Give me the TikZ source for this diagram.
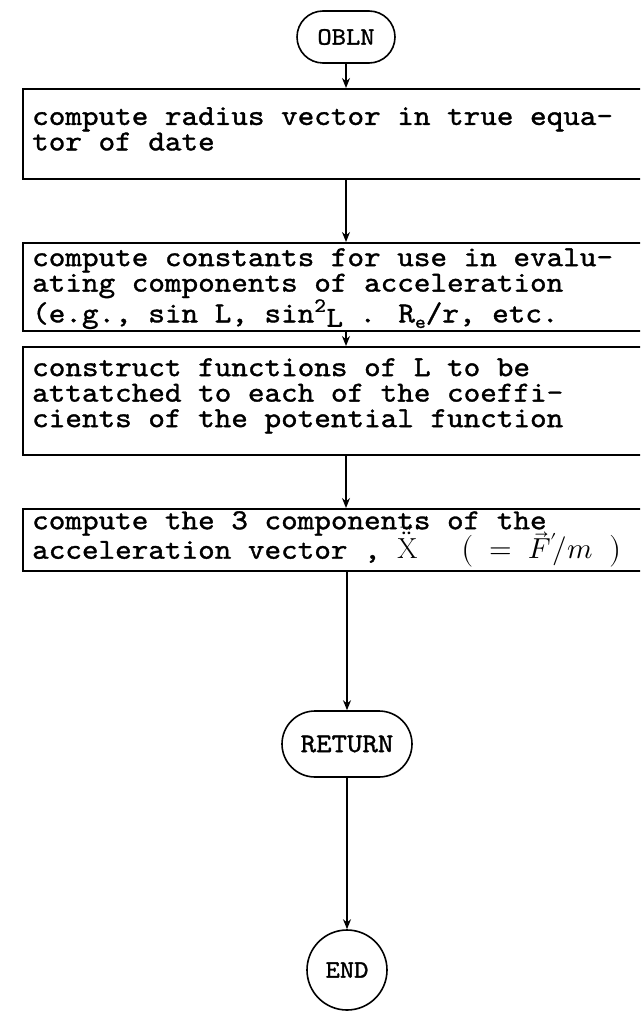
\documentclass[tikz,border=0pt]{standalone}
\usepackage{fontspec}
\usepackage{unicode-math}
\usetikzlibrary{shapes.misc,arrows.meta}
\newfontfamily\tw{lmmono10-regular}[Extension=.otf,FakeBold=1.2,FakeStretch=1.09]
\begin{document}
\begin{tikzpicture}[x=1pt,y=1pt,
  stepbox/.style={draw,line width=1.6pt,rectangle,anchor=north west,
    minimum width=660pt,inner sep=0pt},
  boxtext/.style={anchor=north west,inner sep=0pt,align=left,
    font=\tw\fontsize{29}{25.5}\selectfont},
  term/.style={draw,line width=1.6pt,rounded rectangle,inner sep=0pt,
    font=\tw\fontsize{25}{25}\selectfont},
  endc/.style={draw,line width=1.6pt,circle,inner sep=0pt,
    font=\tw\fontsize{25}{25}\selectfont},
  arr/.style={line width=1.5pt,-{Stealth[length=10pt,width=8pt]}}]
\useasboundingbox (0,0) rectangle (640,-1027);
\clip (0,0) rectangle (640,-1027);
\fill[white] (0,0) rectangle (640,-1027);

\node[term,minimum width=98pt,minimum height=52pt] (obln) at (346,-37) {OBLN};

\node[stepbox,minimum height=90pt] (b1) at (22,-88) {};
\node[boxtext] (t1) at (32,-107) {compute radius vector in true equa-\\tor of date};

\node[stepbox,minimum height=88pt] (b2) at (22,-242) {};
\node[boxtext] (t2) at (32,-248) {compute constants for use in evalu-\\ating components of acceleration\\(e.g., sin L, sin\textsuperscript{2}\raisebox{-0.35ex}{L} . R\raisebox{-0.45ex}{\fontsize{19}{19}\selectfont e}/r, etc.};

\node[stepbox,minimum height=108pt] (b3) at (22,-346) {};
\node[boxtext] (t3) at (32,-358) {construct functions of L to be\\attatched to each of the coeffi-\\cients of the potential function};

\node[stepbox,minimum height=62pt] (b4) at (22,-508) {};
\node[boxtext] (t4) at (32,-511) {compute the 3 components of the\\[4pt]acceleration vector , \smash{$\vec{\ddot{\mathrm{X}}}$}\hspace{44pt}\smash{$\bigl(\;\;=\;\vec{F}'\!/m\;\;\bigr)$}};

\node[term,minimum width=130pt,minimum height=66pt,font=\tw\fontsize{27}{27}\selectfont] (ret) at (347,-744) {RETURN};
\node[endc,minimum size=80pt] (endn) at (347,-970) {END};

\draw[arr] (obln.south) -- (obln.south |- b1.north);
\draw[arr] (obln.south |- b1.south) -- (obln.south |- b2.north);
\draw[arr] (obln.south |- b2.south) -- (obln.south |- b3.north);
\draw[arr] (obln.south |- b3.south) -- (obln.south |- b4.north);
\draw[arr] (ret.north |- b4.south) -- (ret.north);
\draw[arr] (ret.south) -- (endn.north);
\end{tikzpicture}
\end{document}
